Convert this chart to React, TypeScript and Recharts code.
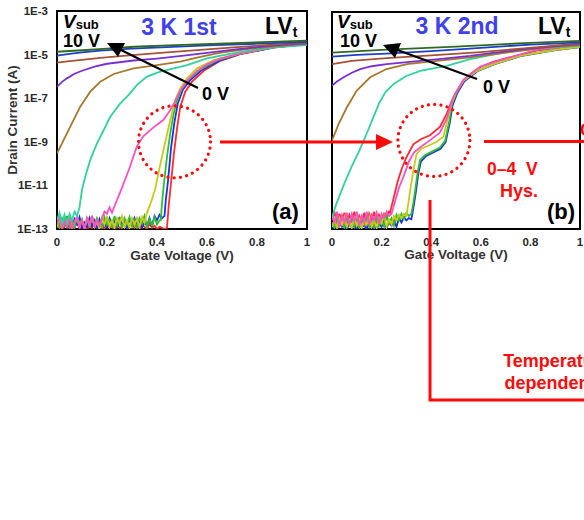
import React from 'react';
import { LineChart, Line, XAxis, YAxis, ReferenceArea, ReferenceDot } from 'recharts';

type Pt = [number, number];

// Gate voltage ticks (V) and drain current ticks (log10 A)
const X_TICKS = [0, 0.2, 0.4, 0.6, 0.8, 1];
const Y_TICKS = [-13, -11, -9, -7, -5, -3];
const FLOOR_STEP = 0.01; // spacing of the noise-floor samples (V)

const VSUB = ['0 V', '1 V', '2 V', '3 V', '4 V', '5 V', '6 V', '7 V', '8 V', '9 V', '10 V'];
const COLORS = ['#ff2a2a', '#1f2fe8', '#2cc02c', '#c9c91a', '#ff4fc4', '#2fd3a0', '#a8782a', '#7a2fd6', '#a55238', '#1e40c8', '#2f6a22'];

// ---------- (a) 3 K 1st : log10(Id) ----------
const A_FLOOR_0 = [-12.95, -12.8, -13, -12.9, -12.7, -13, -12.85, -12.95, -12.6, -13, -12.9, -12.75, -13, -12.85, -12.95, -12.7, -13, -12.9, -12.8, -13, -12.65, -12.95, -12.85, -13, -12.75, -12.95, -12.9, -12.6, -13, -12.85, -12.7, -12.95, -12.55, -13, -12.8, -12.9, -13, -12.75, -12.95, -12.85, -13, -12.9, -12.95, -13];
const A_MAIN_0: Pt[] = [[0.44, -12.95], [0.447, -11.9], [0.456, -10.9], [0.467, -9.6], [0.48, -8.4], [0.493, -7.4], [0.513, -6.7], [0.54, -6.24], [0.587, -5.74], [0.65, -5.3], [0.733, -4.98], [0.867, -4.68], [1, -4.52]];
const A_FLOOR_1 = [-12.85, -12.6, -12.95, -12.5, -12.9, -12.65, -13, -12.55, -12.8, -12.45, -12.95, -12.7, -12.9, -12.5, -12.85, -12.6, -13, -12.55, -12.9, -12.7, -12.95, -12.5, -12.8, -12.6, -12.95, -12.45, -12.85, -12.65, -12.95, -12.55, -12.8, -12.5, -12.9, -12.6, -12.95, -12.7, -12.85, -12.5, -12.9, -12.4, -12.6, -12.35, -12.5];
const A_MAIN_1: Pt[] = [[0.43, -12.4], [0.435, -11.7], [0.444, -10.8], [0.456, -9.3], [0.469, -8.15], [0.483, -7.24], [0.504, -6.6], [0.533, -6.17], [0.58, -5.7], [0.65, -5.28], [0.733, -4.97], [0.867, -4.67], [1, -4.51]];
const A_FLOOR_2 = [-12.7, -12.95, -12.5, -12.8, -12.4, -12.9, -12.6, -12.95, -12.45, -12.8, -12.55, -13, -12.6, -12.85, -12.4, -12.9, -12.5, -12.75, -12.95, -12.45, -12.8, -12.6, -12.9, -12.4, -12.85, -12.55, -12.95, -12.5, -12.8, -12.45, -12.9, -12.6, -12.95, -12.5, -12.75, -12.4, -12.9, -12.55, -12.85, -12.45, -12.8, -12.6];
const A_MAIN_2: Pt[] = [[0.415, -12.6], [0.42, -11.8], [0.427, -11.0], [0.44, -9.68], [0.453, -8.61], [0.467, -7.69], [0.48, -7.08], [0.5, -6.55], [0.527, -6.13], [0.573, -5.68], [0.64, -5.27], [0.733, -4.96], [0.867, -4.66], [1, -4.5]];
const A_FLOOR_3 = [-12.9, -12.55, -12.95, -12.6, -12.85, -12.45, -13, -12.7, -12.5, -12.9, -12.6, -12.95, -12.5, -12.8, -12.4, -12.9, -12.65, -13, -12.5, -12.8, -12.45, -12.9, -12.6, -12.95, -12.5, -12.75, -12.4, -12.9, -12.6, -12.95, -12.5, -12.8, -12.55, -12.9, -12.45, -12.7];
const A_MAIN_3: Pt[] = [[0.359, -12.28], [0.375, -11.8], [0.392, -11.2], [0.41, -10.2], [0.432, -9.06], [0.447, -8.3], [0.46, -7.69], [0.473, -7.08], [0.493, -6.55], [0.52, -6.09], [0.56, -5.63], [0.627, -5.25], [0.733, -4.94], [0.867, -4.64], [1, -4.48]];
const A_FLOOR_4 = [-12.8, -12.45, -12.95, -12.6, -12.9, -12.5, -13, -12.7, -12.4, -12.9, -12.6, -13, -12.5, -12.8, -12.4, -12.9, -12.6, -12.85, -12.5, -12.2, -12.3, -12.0, -12.25];
const A_MAIN_4: Pt[] = [[0.232, -11.9], [0.26, -11.1], [0.29, -10.2], [0.319, -9.22], [0.345, -8.75], [0.385, -8.35], [0.425, -8.0], [0.45, -7.6], [0.472, -7.16], [0.49, -6.7], [0.52, -6.2], [0.56, -5.75], [0.6, -5.45], [0.65, -5.2], [0.733, -4.94], [0.867, -4.66], [1, -4.5]];
const A_FLOOR_5 = [-12.6, -12.25, -12.8, -12.35, -12.7, -12.3, -12.6, -12.2, -12.4, -12.0];
const A_MAIN_5: Pt[] = [[0.095, -11.6], [0.1, -11.2], [0.113, -10.6], [0.133, -9.83], [0.16, -9.07], [0.187, -8.46], [0.213, -7.85], [0.253, -7.24], [0.287, -6.85], [0.32, -6.39], [0.36, -6.01], [0.413, -5.78], [0.467, -5.63], [0.52, -5.48], [0.6, -5.17], [0.733, -4.87], [0.867, -4.67], [1, -4.56]];
const A_MAIN_6: Pt[] = [[0, -9.53], [0.02, -9.07], [0.053, -8.3], [0.093, -7.39], [0.133, -6.7], [0.173, -6.24], [0.227, -5.89], [0.307, -5.63], [0.4, -5.48], [0.493, -5.32], [0.573, -5.1], [0.65, -4.92], [0.75, -4.76], [0.87, -4.62], [1, -4.51]];
const A_MAIN_7: Pt[] = [[0, -6.47], [0.02, -6.25], [0.04, -6.09], [0.07, -5.88], [0.1, -5.74], [0.15, -5.55], [0.2, -5.42], [0.307, -5.27], [0.4, -5.18], [0.507, -5.05], [0.6, -4.92], [0.707, -4.77], [0.85, -4.6], [1, -4.48]];
const A_MAIN_8: Pt[] = [[0, -5.37], [0.05, -5.3], [0.1, -5.24], [0.173, -5.15], [0.3, -5.02], [0.44, -4.9], [0.6, -4.76], [0.707, -4.67], [0.85, -4.55], [1, -4.45]];
const A_MAIN_9: Pt[] = [[0, -5.05], [0.05, -4.97], [0.1, -4.9], [0.173, -4.82], [0.3, -4.73], [0.44, -4.66], [0.6, -4.58], [0.8, -4.5], [1, -4.41]];
const A_MAIN_10: Pt[] = [[0, -4.87], [0.1, -4.8], [0.2, -4.73], [0.307, -4.64], [0.5, -4.55], [0.707, -4.48], [0.85, -4.42], [1, -4.36]];

// ---------- (b) 3 K 2nd : log10(Id) ----------
const B_FLOOR_0 = [-12.6, -12.2, -12.8, -12.3, -12.7, -12.25, -12.85, -12.35, -12.65, -12.2, -12.8, -12.4, -12.7, -12.25, -12.9, -12.3, -12.6, -12.2, -12.75, -12.35, -12.6, -12.3, -12.5, -12.2];
const B_MAIN_0: Pt[] = [[0.234, -12.25], [0.25, -11.5], [0.265, -10.8], [0.282, -10.2], [0.3, -9.7], [0.328, -9.1], [0.36, -8.85], [0.395, -8.68], [0.435, -8.3], [0.462, -7.71], [0.483, -7.1], [0.505, -6.6], [0.53, -6.15], [0.565, -5.8], [0.6, -5.52], [0.65, -5.3], [0.704, -5.13], [0.825, -4.78], [1, -4.52]];
const B_FLOOR_1 = [-12.95, -12.8, -13, -12.7, -12.9, -12.85, -13, -12.75, -12.95, -12.8, -13, -12.65, -12.9, -12.85, -13, -12.7, -12.95, -12.8, -13, -12.75, -12.9, -12.6, -12.95, -12.7, -12.85, -12.6, -12.9, -12.5, -12.7, -12.45, -12.6, -12.5, -12.55];
const B_MAIN_1: Pt[] = [[0.33, -11.9], [0.338, -11.3], [0.348, -10.45], [0.358, -9.9], [0.378, -9.65], [0.4, -9.52], [0.438, -9.3], [0.458, -9.0], [0.475, -8.1], [0.486, -7.3], [0.506, -6.72], [0.533, -6.2], [0.586, -5.73], [0.653, -5.42], [0.76, -5.03], [0.895, -4.77], [1, -4.62]];
const B_FLOOR_2 = [-12.7, -12.95, -12.5, -12.85, -12.6, -12.95, -12.45, -12.8, -12.55, -12.9, -12.6, -12.95, -12.5, -12.8, -12.45, -12.9, -12.65, -12.95, -12.5, -12.85, -12.55, -12.9, -12.4, -12.75, -12.5, -12.85, -12.35, -12.6, -12.3, -12.55, -12.25, -12.4, -12.3];
const B_MAIN_2: Pt[] = [[0.328, -11.8], [0.335, -11.25], [0.345, -10.4], [0.355, -9.82], [0.375, -9.6], [0.395, -9.48], [0.435, -9.25], [0.456, -8.94], [0.473, -8.02], [0.483, -7.25], [0.503, -6.7], [0.53, -6.17], [0.584, -5.71], [0.651, -5.4], [0.758, -5.02], [0.893, -4.76], [1, -4.61]];
const B_FLOOR_3 = [-12.9, -12.6, -12.95, -12.5, -12.8, -12.45, -12.9, -12.65, -12.95, -12.5, -12.85, -12.55, -12.95, -12.6, -12.8, -12.45, -12.9, -12.6, -12.95, -12.5, -12.75, -12.4, -12.9, -12.55, -12.8, -12.4, -12.6, -12.35, -12.5, -12.3, -12.4];
const B_MAIN_3: Pt[] = [[0.308, -11.8], [0.315, -11.25], [0.328, -10.3], [0.341, -9.55], [0.36, -9.3], [0.382, -9.2], [0.422, -8.98], [0.449, -8.75], [0.469, -7.83], [0.483, -7.2], [0.5, -6.7], [0.53, -6.17], [0.584, -5.71], [0.651, -5.4], [0.758, -5.02], [0.893, -4.76], [1, -4.6]];
const B_FLOOR_4 = [-12.3, -12.75, -12.2, -12.9, -12.35, -12.7, -12.25, -12.8, -12.3, -12.65, -12.2, -12.85, -12.4, -12.7, -12.2, -12.8, -12.35, -12.6, -12.25, -12.75, -12.3, -12.5, -12.2, -12.4];
const B_MAIN_4: Pt[] = [[0.24, -12.3], [0.255, -11.7], [0.27, -11.1], [0.288, -10.6], [0.31, -9.9], [0.33, -9.48], [0.36, -9.2], [0.382, -9.02], [0.435, -8.56], [0.462, -7.93], [0.476, -7.4], [0.49, -6.9], [0.53, -6.13], [0.597, -5.52], [0.704, -5.13], [0.825, -4.75], [1, -4.52]];
const B_FLOOR_5 = [-12.5, -12.1];
const B_MAIN_5: Pt[] = [[0.019, -11.8], [0.05, -10.9], [0.08, -10.1], [0.11, -9.4], [0.14, -8.6], [0.165, -7.9], [0.19, -7.2], [0.215, -6.7], [0.25, -6.3], [0.3, -5.95], [0.356, -5.71], [0.463, -5.48], [0.557, -5.17], [0.691, -4.87], [0.826, -4.68], [1, -4.56]];
const B_MAIN_6: Pt[] = [[0, -8.92], [0.027, -8.15], [0.06, -7.39], [0.1, -6.62], [0.154, -6.01], [0.22, -5.63], [0.302, -5.4], [0.423, -5.25], [0.557, -5.09], [0.65, -4.95], [0.758, -4.79], [0.88, -4.62], [1, -4.52]];
const B_MAIN_7: Pt[] = [[0, -6.39], [0.02, -6.2], [0.047, -6.01], [0.08, -5.8], [0.114, -5.63], [0.16, -5.5], [0.22, -5.4], [0.356, -5.25], [0.45, -5.15], [0.557, -5.02], [0.65, -4.88], [0.76, -4.73], [0.88, -4.6], [1, -4.48]];
const B_MAIN_8: Pt[] = [[0, -5.4], [0.08, -5.25], [0.22, -5.13], [0.4, -5.0], [0.6, -4.85], [0.75, -4.7], [0.9, -4.55], [1, -4.45]];
const B_MAIN_9: Pt[] = [[0, -5.06], [0.1, -4.98], [0.22, -4.92], [0.4, -4.8], [0.6, -4.65], [0.8, -4.5], [1, -4.4]];
const B_MAIN_10: Pt[] = [[0, -4.87], [0.2, -4.75], [0.5, -4.6], [0.75, -4.45], [1, -4.33]];

const withFloor = (floor: number[], main: Pt[]): Pt[] => [
  ...floor.map((l, i) => [Math.round(i * FLOOR_STEP * 1000) / 1000, l] as Pt),
  ...main,
];

const PANEL_A: Pt[][] = [
  withFloor(A_FLOOR_0, A_MAIN_0), withFloor(A_FLOOR_1, A_MAIN_1), withFloor(A_FLOOR_2, A_MAIN_2),
  withFloor(A_FLOOR_3, A_MAIN_3), withFloor(A_FLOOR_4, A_MAIN_4), withFloor(A_FLOOR_5, A_MAIN_5),
  A_MAIN_6, A_MAIN_7, A_MAIN_8, A_MAIN_9, A_MAIN_10,
];
const PANEL_B: Pt[][] = [
  withFloor(B_FLOOR_0, B_MAIN_0), withFloor(B_FLOOR_1, B_MAIN_1), withFloor(B_FLOOR_2, B_MAIN_2),
  withFloor(B_FLOOR_3, B_MAIN_3), withFloor(B_FLOOR_4, B_MAIN_4), withFloor(B_FLOOR_5, B_MAIN_5),
  B_MAIN_6, B_MAIN_7, B_MAIN_8, B_MAIN_9, B_MAIN_10,
];

const FONT = '"Liberation Sans", Arial, Helvetica, sans-serif';
const RED = '#ff0a0a';
const TICK = { fontSize: 11.5, fontWeight: 700, fill: '#2a2a2a', fontFamily: FONT };
const fmtX = (v: number) => (v === 0 ? '0' : v === 1 ? '1' : v.toFixed(1));
const fmtY = (v: number) => `1E${v}`;

interface PanelProps {
  series: Pt[][];
  left: number;
  width: number;
  marginTop: number;
  marginRight: number;
  yWidth: number;
  showY: boolean;
  labelOffset: number;
  circle: { x: number; y: number };
}

function Panel({ series, left, width, marginTop, marginRight, yWidth, showY, labelOffset, circle }: PanelProps) {
  return (
    <div style={{ position: 'absolute', left, top: 0 }}>
      <LineChart width={width} height={270} margin={{ top: marginTop, right: marginRight, bottom: 0, left: 0 }}>
        <XAxis
          dataKey="v"
          type="number"
          domain={[0, 1]}
          ticks={X_TICKS}
          allowDataOverflow
          tickFormatter={fmtX}
          tickSize={0}
          tickMargin={9}
          tickLine={false}
          axisLine={false}
          tick={TICK}
          height={41}
          interval={0}
          label={{ value: 'Gate Voltage (V)', position: 'insideBottom', offset: labelOffset, fill: '#333', fontSize: 13.5, fontWeight: 700, fontFamily: FONT }}
        />
        <YAxis
          type="number"
          domain={[-13, -3]}
          ticks={Y_TICKS}
          allowDataOverflow
          width={yWidth}
          tick={showY ? TICK : false}
          tickFormatter={fmtY}
          tickSize={0}
          tickMargin={9}
          tickLine={false}
          axisLine={false}
          interval={0}
        />
        {series.map((pts, i) => (
          <Line
            key={VSUB[i]}
            name={VSUB[i]}
            data={pts.map(([v, l]) => ({ v, l }))}
            dataKey="l"
            type="linear"
            stroke={COLORS[i]}
            strokeWidth={1.8}
            dot={false}
            activeDot={false}
            isAnimationActive={false}
          />
        ))}
        <ReferenceArea x1={0} x2={1} y1={-13} y2={-3} fill="none" fillOpacity={0} stroke="#000" strokeWidth={2} ifOverflow="visible" />
        <ReferenceDot x={circle.x} y={circle.y} r={36} fill="none" stroke={RED} strokeWidth={3.2} strokeDasharray="0.1 6.2" strokeLinecap="round" ifOverflow="visible" />
      </LineChart>
    </div>
  );
}

export default function App() {
  const bold = { fontFamily: FONT, fontWeight: 700 } as const;
  return (
    <div style={{ position: 'absolute', left: 0, top: 0, width: 584, height: 520, overflow: 'hidden', background: '#fff' }}>
      <Panel series={PANEL_A} left={0} width={320} marginTop={11} marginRight={13} yWidth={57} showY labelOffset={10} circle={{ x: 0.47, y: -9.0 }} />
      <Panel series={PANEL_B} left={320} width={264} marginTop={12} marginRight={4} yWidth={12} showY={false} labelOffset={11} circle={{ x: 0.411, y: -8.92 }} />
      <svg width={584} height={520} style={{ position: 'absolute', left: 0, top: 0, pointerEvents: 'none' }}>
        {/* y axis title */}
        <text x={17} y={120} transform="rotate(-90 17 120)" textAnchor="middle" fontSize={13.5} fill="#333" {...bold}>Drain Current (A)</text>

        {/* panel (a) annotations */}
        <text x={63} y={28} fontSize={19} fill="#000" {...bold}><tspan fontStyle="italic">V</tspan><tspan fontSize={13} dy={1}>sub</tspan></text>
        <text x={63} y={47} fontSize={18} fill="#000" {...bold}>10 V</text>
        <text x={179} y={35} fontSize={23} fill="#4040ee" textAnchor="middle" {...bold}>3 K 1st</text>
        <text x={265} y={34} fontSize={23} fill="#000" {...bold}>LV<tspan fontSize={14} dy={3}>t</tspan></text>
        <text x={202} y={100} fontSize={18} fill="#000" {...bold}>0 V</text>
        <text x={272} y={219} fontSize={22} fill="#000" {...bold}>(a)</text>
        <line x1={198} y1={88} x2={117} y2={48} stroke="#000" strokeWidth={2} />
        <polygon points="107,43 125,43 118,57" fill="#000" />

        {/* panel (b) annotations */}
        <text x={337} y={28} fontSize={19} fill="#000" {...bold}><tspan fontStyle="italic">V</tspan><tspan fontSize={13} dy={1}>sub</tspan></text>
        <text x={340} y={47} fontSize={18} fill="#000" {...bold}>10 V</text>
        <text x={457} y={34} fontSize={23} fill="#4040ee" textAnchor="middle" {...bold}>3 K 2nd</text>
        <text x={538} y={34} fontSize={23} fill="#000" {...bold}>LV<tspan fontSize={14} dy={3}>t</tspan></text>
        <text x={483} y={93} fontSize={18} fill="#000" {...bold}>0 V</text>
        <text x={547} y={219} fontSize={22} fill="#000" {...bold}>(b)</text>
        <line x1={477} y1={79} x2={392} y2={48} stroke="#000" strokeWidth={2} />
        <polygon points="383,45 401,43 395,58" fill="#000" />

        {/* red connectors */}
        <line x1={220} y1={142} x2={378} y2={142} stroke={RED} strokeWidth={3} />
        <polygon points="393,142 376,134 376,150" fill={RED} />
        <line x1={484} y1={141.5} x2={584} y2={141.5} stroke={RED} strokeWidth={3} />
        <text x={580} y={136} fontSize={18} fill={RED} {...bold}>C</text>
        <text x={487} y={175} fontSize={17.5} fill={RED} xmlSpace="preserve" {...bold}>0–4  V</text>
        <text x={500} y={197} fontSize={18} fill={RED} {...bold}>Hys.</text>
        <polyline points="430,200 430,400 584,400" fill="none" stroke={RED} strokeWidth={3} />
        <text x={557} y={367} fontSize={18} fill={RED} textAnchor="middle" {...bold}>Temperature</text>
        <text x={557} y={389} fontSize={18} fill={RED} textAnchor="middle" {...bold}>dependence</text>
      </svg>
    </div>
  );
}
